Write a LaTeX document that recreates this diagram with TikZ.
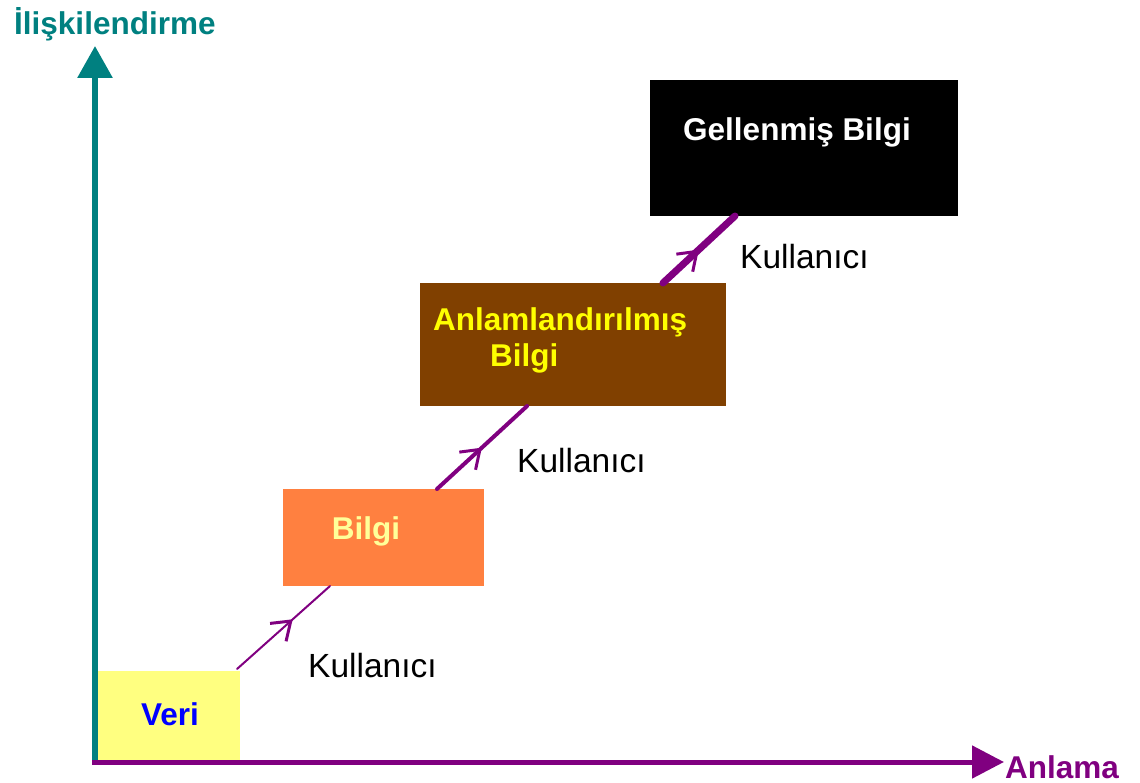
\documentclass[tikz,border=0pt]{standalone}
\usepackage{fontspec}
\setmainfont{Liberation Sans}
\usetikzlibrary{arrows.meta,calc,decorations.markings}
\definecolor{teal2}{HTML}{008080}
\definecolor{purp}{HTML}{800080}
\definecolor{veriY}{HTML}{FFFF80}
\definecolor{veriB}{HTML}{0000FF}
\definecolor{bilgiO}{HTML}{FF8040}
\definecolor{bilgiT}{HTML}{FFFF99}
\definecolor{anlB}{HTML}{804000}
\definecolor{anlT}{HTML}{FFFF00}
\tikzset{
  box/.style={draw=none, inner sep=0pt, outer sep=0pt, anchor=north west},
  lbl/.style={font=\fontsize{31.5}{36}\selectfont\bfseries, inner sep=0pt},
  user/.style={font=\fontsize{33.5}{38}\selectfont, inner sep=0pt, anchor=west},
  conn/.style={purp, line cap=round, postaction={decorate}, decoration={markings,
     mark=at position #1 with {\arrow[purp]{Straight Barb[length=17pt,width=24pt,line width=3pt]}}}},
}
\begin{document}
\begin{tikzpicture}[x=1pt,y=-1pt]
\useasboundingbox (0,0) rectangle (1140,783);
% boxes
\node[box, fill=veriY, minimum width=143pt, minimum height=89pt] (veri) at (97,671) {};
\node[box, fill=bilgiO, minimum width=201pt, minimum height=97pt] (bilgi) at (283,489) {};
\node[box, fill=anlB, minimum width=306pt, minimum height=123pt] (anl) at (420,283) {};
\node[box, fill=black, minimum width=308pt, minimum height=136pt] (gel) at (650,80) {};
% box texts
\node[lbl, text=veriB] (veriT) at (170,714) {Veri};
\node[lbl, text=bilgiT] (bilgiTx) at (366,531) {Bilgi};
\node[lbl, text=anlT, anchor=west] (anlT1) at (433,322) {Anlamlandırılmış};
\node[lbl, text=anlT, anchor=west] (anlT2) at (490,358) {Bilgi};
\node[lbl, text=white, anchor=west] (gelT) at (683,132) {Gellenmiş Bilgi};
% axes
\coordinate (o) at (95,762);
\coordinate (ytip) at (95,46);
\coordinate (xtip) at (1004,762);
\draw[teal2, line width=6pt, -{Triangle[length=32pt,width=34pt]}] ($(o)+(0,-1)$) -- (ytip);
\draw[purp, line width=5pt, -{Triangle[length=32pt,width=32pt]}] (92,762) -- (xtip);
\node[lbl, text=teal2, anchor=west] (ylab) at (14,24) {İlişkilendirme};
\node[lbl, text=purp, anchor=west] (xlab) at (1005,767) {Anlama};
% connectors
\coordinate (c1a) at (veri.north east);
\coordinate (c1b) at ($(bilgi.south west)!0.234!(bilgi.south east)$);
\coordinate (c2a) at ($(bilgi.north west)!0.766!(bilgi.north east)$);
\coordinate (c2b) at ($(anl.south west)!0.35!(anl.south east)$);
\coordinate (c3a) at ($(anl.north west)!0.794!(anl.north east)$);
\coordinate (c3b) at ($(gel.south west)!0.276!(gel.south east)$);
\draw[conn=0.6, line width=2pt] ($(c1a)+(-3,-2)$) -- (c1b);
\draw[conn=0.5, line width=4pt] (c2a) -- (c2b);
\draw[conn=0.5, line width=7pt] (c3a) -- (c3b);
% user labels
\node[user] (u1) at (308,666) {Kullanıcı};
\node[user] (u2) at (517,461) {Kullanıcı};
\node[user] (u3) at (740,257) {Kullanıcı};
\end{tikzpicture}
\end{document}
